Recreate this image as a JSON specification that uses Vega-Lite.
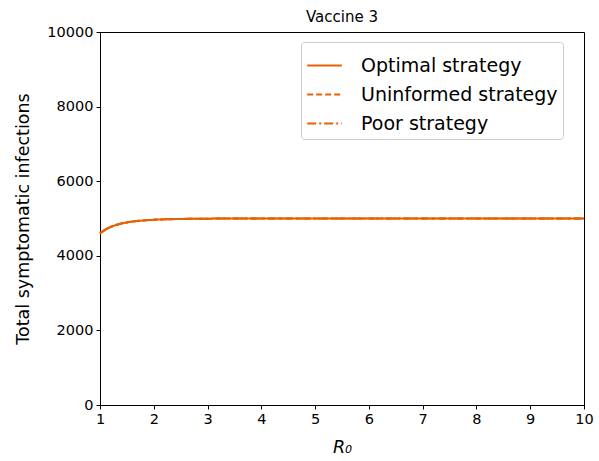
{
  "$schema": "https://vega.github.io/schema/vega-lite/v6.json",
  "width": 484,
  "height": 373,
  "autosize": {"type": "none"},
  "padding": {"left": 100, "top": 32, "right": 15, "bottom": 56},
  "config": {
    "font": "DejaVu Sans",
    "view": {"stroke": "#000000", "strokeWidth": 1},
    "axis": {
      "grid": false,
      "domainColor": "#000000",
      "tickColor": "#000000",
      "labelColor": "#000000",
      "titleColor": "#000000",
      "labelFontSize": 14.5,
      "titleFontSize": 17.5,
      "titleFontWeight": "normal",
      "tickSize": 4,
      "labelPadding": 3,
      "labelFlush": false,
      "format": "d"
    }
  },
  "title": {"text": "Vaccine 3", "fontSize": 15, "fontWeight": "normal", "color": "#000000", "offset": -1},
  "data": {
    "values": [
      {"r0": 1.0, "v": 4600, "s": "Optimal strategy"},
      {"r0": 1.1, "v": 4700, "s": "Optimal strategy"},
      {"r0": 1.2, "v": 4775, "s": "Optimal strategy"},
      {"r0": 1.35, "v": 4845, "s": "Optimal strategy"},
      {"r0": 1.5, "v": 4895, "s": "Optimal strategy"},
      {"r0": 1.75, "v": 4940, "s": "Optimal strategy"},
      {"r0": 2.0, "v": 4965, "s": "Optimal strategy"},
      {"r0": 2.5, "v": 4988, "s": "Optimal strategy"},
      {"r0": 3.0, "v": 4996, "s": "Optimal strategy"},
      {"r0": 4.0, "v": 5000, "s": "Optimal strategy"},
      {"r0": 6.0, "v": 5000, "s": "Optimal strategy"},
      {"r0": 8.0, "v": 5000, "s": "Optimal strategy"},
      {"r0": 10.0, "v": 5000, "s": "Optimal strategy"},
      {"r0": 1.0, "v": 4600, "s": "Uninformed strategy"},
      {"r0": 1.1, "v": 4700, "s": "Uninformed strategy"},
      {"r0": 1.2, "v": 4775, "s": "Uninformed strategy"},
      {"r0": 1.35, "v": 4845, "s": "Uninformed strategy"},
      {"r0": 1.5, "v": 4895, "s": "Uninformed strategy"},
      {"r0": 1.75, "v": 4940, "s": "Uninformed strategy"},
      {"r0": 2.0, "v": 4965, "s": "Uninformed strategy"},
      {"r0": 2.5, "v": 4988, "s": "Uninformed strategy"},
      {"r0": 3.0, "v": 4996, "s": "Uninformed strategy"},
      {"r0": 4.0, "v": 5000, "s": "Uninformed strategy"},
      {"r0": 6.0, "v": 5000, "s": "Uninformed strategy"},
      {"r0": 8.0, "v": 5000, "s": "Uninformed strategy"},
      {"r0": 10.0, "v": 5000, "s": "Uninformed strategy"},
      {"r0": 1.0, "v": 4600, "s": "Poor strategy"},
      {"r0": 1.1, "v": 4700, "s": "Poor strategy"},
      {"r0": 1.2, "v": 4775, "s": "Poor strategy"},
      {"r0": 1.35, "v": 4845, "s": "Poor strategy"},
      {"r0": 1.5, "v": 4895, "s": "Poor strategy"},
      {"r0": 1.75, "v": 4940, "s": "Poor strategy"},
      {"r0": 2.0, "v": 4965, "s": "Poor strategy"},
      {"r0": 2.5, "v": 4988, "s": "Poor strategy"},
      {"r0": 3.0, "v": 4996, "s": "Poor strategy"},
      {"r0": 4.0, "v": 5000, "s": "Poor strategy"},
      {"r0": 6.0, "v": 5000, "s": "Poor strategy"},
      {"r0": 8.0, "v": 5000, "s": "Poor strategy"},
      {"r0": 10.0, "v": 5000, "s": "Poor strategy"}
    ]
  },
  "mark": {"type": "line", "strokeWidth": 2, "interpolate": "monotone"},
  "encoding": {
    "x": {
      "field": "r0", "type": "quantitative",
      "scale": {"domain": [1, 10], "nice": false, "zero": false},
      "axis": {"values": [1,2,3,4,5,6,7,8,9,10], "title": "R₀", "titleFontStyle": "italic", "titlePadding": 13}
    },
    "y": {
      "field": "v", "type": "quantitative",
      "scale": {"domain": [0, 10000], "nice": false},
      "axis": {"values": [0,2000,4000,6000,8000,10000], "title": "Total symptomatic infections", "titlePadding": 14}
    },
    "color": {
      "field": "s", "type": "nominal",
      "scale": {"domain": ["Optimal strategy", "Uninformed strategy", "Poor strategy"], "range": ["#e66101", "#e66101", "#e66101"]},
      "legend": {
        "title": null,
        "orient": "none",
        "legendX": 201,
        "legendY": 10,
        "symbolType": "stroke",
        "symbolStrokeWidth": 2,
        "symbolSize": 1200,
        "labelFontSize": 19,
        "labelLimit": 400,
        "labelColor": "#000000",
        "labelOffset": 18,
        "rowPadding": 0,
        "padding": 5,
        "strokeColor": "#cccccc",
        "cornerRadius": 3,
        "fillColor": "#ffffff"
      }
    },
    "strokeDash": {
      "field": "s", "type": "nominal",
      "scale": {"domain": ["Optimal strategy", "Uninformed strategy", "Poor strategy"], "range": [[1, 0], [6, 3], [9, 3, 2, 3]]},
      "legend": {
        "title": null,
        "orient": "none",
        "legendX": 201,
        "legendY": 10,
        "symbolType": "stroke",
        "symbolStrokeWidth": 2,
        "symbolSize": 1200,
        "labelFontSize": 19,
        "labelLimit": 400,
        "labelColor": "#000000",
        "labelOffset": 18,
        "rowPadding": 0,
        "padding": 5,
        "strokeColor": "#cccccc",
        "cornerRadius": 3,
        "fillColor": "#ffffff"
      }
    }
  }
}
